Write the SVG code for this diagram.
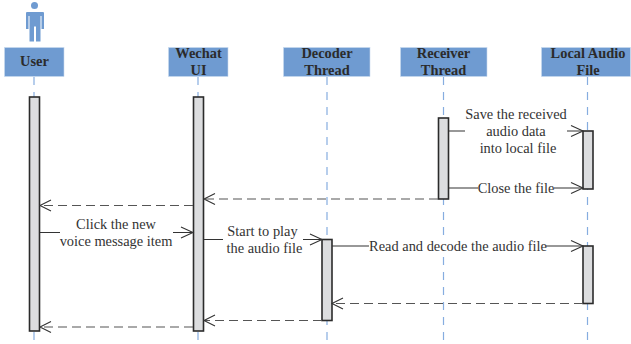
<svg xmlns="http://www.w3.org/2000/svg" width="631" height="344" viewBox="0 0 631 344">
<style>
.h{fill:#6f9bd1;stroke:#c9daee;stroke-width:.6}
.ht{font:bold 14.400px "Liberation Serif",serif;fill:#2b2b2b;text-anchor:middle}
.t{font:14.400px "Liberation Serif",serif;fill:#333;text-anchor:middle}
.ll{stroke:#86ade0;stroke-width:1.2;stroke-dasharray:8 7;fill:none}
.a{fill:#dcdddf;stroke:#2b2b2b;stroke-width:1.6}
.s{stroke:#333;stroke-width:1.2;fill:none}
.d{stroke:#555;stroke-width:1.2;fill:none;stroke-dasharray:9 5}
.o{stroke:#333;stroke-width:1.1;fill:none}
</style>
<g id="lifelines">
<path class="ll" d="M34 77V342M198 77V342M327 77V342M443.500 77V342M587.500 77V342"/>
</g>
<g id="actor-icon">
<circle cx="34.500" cy="5.500" r="3.500" fill="#6f9bd1"/>
<path d="M26 12h17q1 0 1 1v16h-2.500v-13h-1v25.500h-4.500v-15h-2v15h-4.500v-25.500h-1v13h-2.500v-16q0-1 1-1z" fill="#6f9bd1"/>
</g>
<g id="user"><rect class="h" x="4.500" y="47.500" width="59.500" height="29"/><text class="ht" x="34.500" y="66">User</text></g>
<g id="wechat"><rect class="h" x="168.500" y="47.500" width="59.500" height="29"/><text class="ht" x="198.500" y="58">Wechat</text><text class="ht" x="198.500" y="75">UI</text></g>
<g id="decoder"><rect class="h" x="283.500" y="47.500" width="86.500" height="29"/><text class="ht" x="327" y="58">Decoder</text><text class="ht" x="327" y="75">Thread</text></g>
<g id="receiver"><rect class="h" x="400.500" y="47.500" width="86.500" height="29"/><text class="ht" x="443.500" y="58">Receiver</text><text class="ht" x="443.500" y="75">Thread</text></g>
<g id="localfile"><rect class="h" x="541.500" y="47.500" width="89" height="29"/><text class="ht" x="588" y="58">Local Audio</text><text class="ht" x="588" y="75">File</text></g>
<g id="activations">
<rect class="a" x="29.500" y="97" width="10" height="234"/>
<rect class="a" x="193.500" y="97" width="10" height="234"/>
<rect class="a" x="438.500" y="118" width="10" height="81"/>
<rect class="a" x="583" y="131" width="10" height="58"/>
<rect class="a" x="322" y="239.500" width="10" height="81"/>
<rect class="a" x="583" y="246" width="10" height="57.500"/>
</g>
<g id="connectors">
<path class="s" d="M449 131h16M567 131h16M449 188h29M554 188h29M40 232.500h20M173 232.500h20M204 239.500h19M303 239.500h19M332 246h37M546 246h37"/>
<path class="o" d="M571 125.500l12 5.500-12 5.500M571 182.500l12 5.500-12 5.500M181 227l12 5.500-12 5.500M310 234l12 5.500-12 5.500M571 240.500l12 5.500-12 5.500"/>
<path class="d" d="M438 199H204M193 205.500H40M583 303.500H332M322 320.500H204M193 327H40"/>
<path class="o" d="M215 193.500l-11 5.500 11 5.500M51 200l-11 5.500 11 5.500M343 298l-11 5.500 11 5.500M215 315l-11 5.500 11 5.500M51 321.500l-11 5.500 11 5.500"/>
</g>
<g id="labels">
<text class="t" x="516" y="119">Save the received</text>
<text class="t" x="516" y="136">audio data</text>
<text class="t" x="518" y="153">into local file</text>
<text class="t" x="516" y="193">Close the file</text>
<text class="t" x="116" y="229">Click the new</text>
<text class="t" x="116" y="246">voice message item</text>
<text class="t" x="262.500" y="236">Start to play</text>
<text class="t" x="264.500" y="253">the audio file</text>
<rect x="435" y="240" width="18" height="14" fill="#fff"/>
<text class="t" x="458" y="251">Read and decode the audio file</text>
</g>
</svg>
